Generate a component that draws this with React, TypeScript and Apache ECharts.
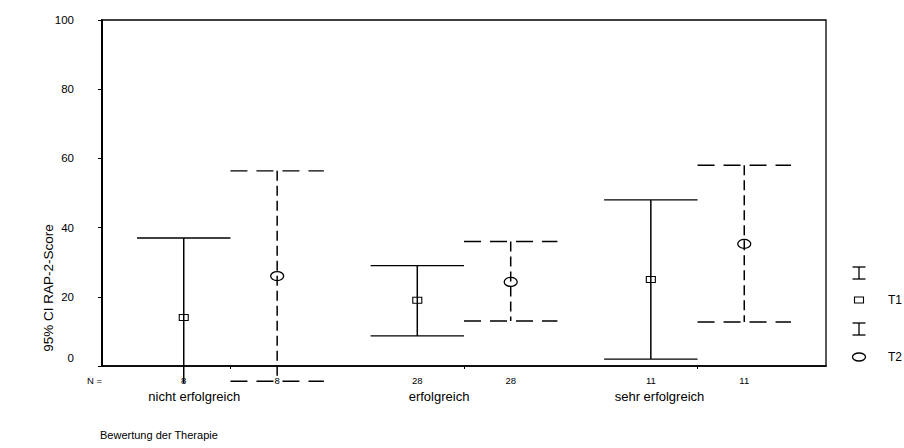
import React, { useEffect, useRef } from "react";
import * as echarts from "echarts";

// ---- data ----
const categories = ["nicht erfolgreich", "erfolgreich", "sehr erfolgreich"];
const nT1 = [8, 28, 11];
const nT2 = [8, 28, 11];
const t1Mean = [14, 19, 25];
const t1Lower = [-9, 8.7, 2];
const t1Upper = [37, 29, 48];
const t2Mean = [26, 24.3, 35.3];
const t2Lower = [-4.4, 13, 12.7];
const t2Upper = [56.4, 36, 58];
const yTickLabels = [0, 20, 40, 60, 80, 100];
const categoryLabelPos = [0.845, 1.893, 2.837];
const legendNames = ["T1", "T2"];

const FONT = "'Liberation Sans', Arial, sans-serif";
const OFFSET = 0.2; // position of T1 / T2 around group centre
const CAP_HALF = 0.2;
const FLOOR = -5; // drawing is cut below this value

function makeRender(kind: "t1" | "t2") {
  const dashed = kind === "t2";
  const off = kind === "t1" ? -OFFSET : OFFSET;
  return (params: any, api: any) => {
    const g = api.value(0);
    const mean = api.value(1);
    const lo = api.value(2);
    const hi = api.value(3);
    const xv = g + 1 + off;
    const pHi = api.coord([xv, hi]);
    const pMean = api.coord([xv, mean]);
    const pLo = api.coord([xv, Math.max(lo, FLOOR)]);
    const hw = api.size([CAP_HALF, 0])[0];
    const vStyle: any = { stroke: "#000", lineWidth: 1.5, fill: "none" };
    const cStyle: any = { stroke: "#000", lineWidth: 1.4, fill: "none" };
    if (dashed) {
      vStyle.lineDash = [10, 5];
      cStyle.lineDash = [17, 9];
    }
    const children: any[] = [
      { type: "line", shape: { x1: pHi[0], y1: pHi[1], x2: pLo[0], y2: pLo[1] }, style: vStyle },
      { type: "line", shape: { x1: pHi[0] - hw, y1: pHi[1], x2: pHi[0] + hw, y2: pHi[1] }, style: cStyle },
    ];
    if (lo >= FLOOR) {
      children.push({
        type: "line",
        shape: { x1: pLo[0] - hw, y1: pLo[1], x2: pLo[0] + hw, y2: pLo[1] },
        style: cStyle,
      });
    }
    if (kind === "t1") {
      children.push({
        type: "rect",
        shape: { x: pMean[0] - 4.5, y: pMean[1] - 3, width: 9, height: 6 },
        style: { stroke: "#000", lineWidth: 1.1, fill: "none" },
      });
    } else {
      children.push({
        type: "ellipse",
        shape: { cx: pMean[0], cy: pMean[1], rx: 6.5, ry: 4.5 },
        style: { stroke: "#000", lineWidth: 1.3, fill: "none" },
      });
    }
    return { type: "group", children };
  };
}

export default function App() {
  const ref = useRef<HTMLDivElement>(null);
  useEffect(() => {
    if (!ref.current) return;
    const chart = echarts.init(ref.current, null, { renderer: "svg" });
    const nPos: number[] = [];
    const nVals: number[] = [];
    categories.forEach((_, i) => {
      nPos.push(i + 1 - OFFSET, i + 1 + OFFSET);
      nVals.push(nT1[i], nT2[i]);
    });
    const t1Data = categories.map((_, i) => [i, t1Mean[i], t1Lower[i], t1Upper[i]]);
    const t2Data = categories.map((_, i) => [i, t2Mean[i], t2Lower[i], t2Upper[i]]);

    const legendLine = (x: number, y1: number, y2: number) => [
      { type: "line", shape: { x1: x, y1, x2: x, y2 }, style: { stroke: "#000", lineWidth: 1.3 } },
      { type: "line", shape: { x1: x - 6.5, y1, x2: x + 6.5, y2: y1 }, style: { stroke: "#000", lineWidth: 1.3 } },
      { type: "line", shape: { x1: x - 6.5, y1: y2, x2: x + 6.5, y2 }, style: { stroke: "#000", lineWidth: 1.3 } },
    ];

    chart.setOption({
      animation: false,
      backgroundColor: "#fff",
      grid: {
        left: 102,
        right: 78,
        top: 20,
        bottom: 82,
        show: true,
        borderColor: "#000",
        borderWidth: 1.3,
        backgroundColor: "transparent",
      },
      xAxis: [
        {
          type: "value",
          min: 0.45,
          max: 3.55,
          splitLine: { show: false },
          axisLine: { show: true, onZero: false, lineStyle: { color: "#000", width: 1.6 } },
          axisTick: { show: true, customValues: [1, 2, 3], length: 3, lineStyle: { color: "#000" } },
          axisLabel: {
            show: true,
            customValues: nPos,
            formatter: (v: number) => {
              const idx = nPos.findIndex((p) => Math.abs(p - v) < 1e-6);
              return idx >= 0 ? String(nVals[idx]) : "";
            },
            fontSize: 9.5,
            color: "#000",
            fontFamily: FONT,
            margin: 9,
          },
        },
        {
          type: "value",
          min: 0.45,
          max: 3.55,
          position: "bottom",
          splitLine: { show: false },
          axisLine: { show: false },
          axisTick: { show: false },
          axisLabel: {
            show: true,
            customValues: categoryLabelPos,
            formatter: (v: number) => {
              const idx = categoryLabelPos.findIndex((p) => Math.abs(p - v) < 1e-6);
              return idx >= 0 ? categories[idx] : "";
            },
            fontSize: 13,
            color: "#000",
            fontFamily: FONT,
            margin: 24,
          },
        },
      ],
      yAxis: {
        type: "value",
        min: 0,
        max: 100,
        interval: 20,
        splitLine: { show: false },
        axisLine: { show: true, lineStyle: { color: "#000", width: 2 } },
        axisTick: { show: true, length: 4, lineStyle: { color: "#000" } },
        axisLabel: {
          fontSize: 11.5,
          color: "#000",
          fontFamily: FONT,
          margin: 28,
          formatter: (v: number) =>
            yTickLabels.includes(v) ? (v === 0 ? "{z|0}" : String(v)) : "",
          rich: { z: { fontSize: 11.5, fontFamily: FONT, color: "#000", padding: [0, 0, 16, 0] } },
        },
      },
      series: [
        {
          name: legendNames[0],
          type: "custom",
          clip: false,
          renderItem: makeRender("t1"),
          data: t1Data,
          z: 5,
        },
        {
          name: legendNames[1],
          type: "custom",
          clip: false,
          renderItem: makeRender("t2"),
          data: t2Data,
          z: 5,
        },
      ],
      graphic: [
        {
          type: "text",
          left: 87,
          top: 375,
          style: { text: "N =", fontSize: 9.5, fill: "#000", fontFamily: FONT },
        },
        {
          type: "text",
          x: 48,
          y: 288,
          rotation: Math.PI / 2,
          style: {
            text: "95% CI RAP-2-Score",
            fontSize: 13.5,
            fill: "#000",
            fontFamily: FONT,
            align: "center",
            verticalAlign: "middle",
          },
        },
        {
          type: "text",
          left: 100,
          top: 429,
          style: { text: "Bewertung der Therapie", fontSize: 11, fill: "#000", fontFamily: FONT },
        },
        ...legendLine(859, 267, 279),
        {
          type: "rect",
          shape: { x: 854.5, y: 297, width: 9, height: 6 },
          style: { stroke: "#000", lineWidth: 1.1, fill: "none" },
        },
        ...legendLine(859, 323, 335),
        {
          type: "ellipse",
          shape: { cx: 859, cy: 357, rx: 6.5, ry: 4 },
          style: { stroke: "#000", lineWidth: 1.3, fill: "none" },
        },
        {
          type: "text",
          x: 888,
          y: 300,
          style: { text: legendNames[0], fontSize: 12, fill: "#000", fontFamily: FONT, verticalAlign: "middle" },
        },
        {
          type: "text",
          x: 888,
          y: 357,
          style: { text: legendNames[1], fontSize: 12, fill: "#000", fontFamily: FONT, verticalAlign: "middle" },
        },
      ],
    });
    return () => chart.dispose();
  }, []);
  return (
    <div
      ref={ref}
      style={{ position: "fixed", left: 0, top: 0, width: 904, height: 448, background: "#fff" }}
    />
  );
}
